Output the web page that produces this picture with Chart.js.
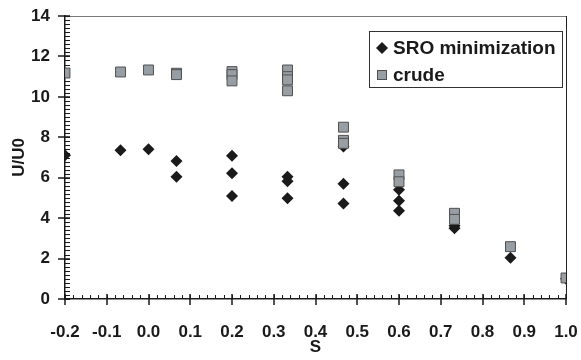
<!DOCTYPE html>
<html>
<head>
<meta charset="utf-8">
<script src="https://cdn.jsdelivr.net/npm/chart.js@4/dist/chart.umd.min.js"></script>
<style>
  html, body { margin: 0; padding: 0; background: #fff; }
  #wrap { width: 581px; height: 360px; }
</style>
</head>
<body>
<div id="wrap"><canvas id="chart" width="581" height="360"></canvas></div>
<script>
// ===== Data =====
const sroX   = [-0.2, -0.067, 0.0, 0.067, 0.067, 0.2, 0.2, 0.2, 0.333, 0.333, 0.333, 0.467, 0.467, 0.467, 0.6, 0.6, 0.6, 0.733, 0.733, 0.867, 1.0];
const sroY   = [7.11, 7.36, 7.41, 6.83, 6.05, 7.09, 6.22, 5.10, 6.05, 5.82, 4.98, 7.55, 5.70, 4.73, 5.40, 4.86, 4.37, 3.62, 3.50, 2.04, 1.0];
const crudeX = [-0.2, -0.067, 0.0, 0.067, 0.067, 0.2, 0.2, 0.2, 0.333, 0.333, 0.333, 0.333, 0.467, 0.467, 0.467, 0.6, 0.6, 0.733, 0.733, 0.867, 1.0];
const crudeY = [11.18, 11.23, 11.33, 11.17, 11.10, 11.25, 11.10, 10.79, 11.33, 11.00, 10.84, 10.30, 8.50, 7.85, 7.70, 6.14, 5.80, 4.24, 3.94, 2.59, 1.04];
const seriesNames = ['SRO minimization', 'crude'];
const xTicks = { min: -0.2, max: 1.0, step: 0.1, minor: 0.02 };
const yTicks = { min: 0, max: 14, step: 2, minor: 0.2 };

const toPoints = (xs, ys) => xs.map((x, i) => ({ x: x, y: ys[i] }));

const SRO_COLOR = '#1a1a1a';
const CRUDE_FILL = '#979ea4';
const CRUDE_EDGE = '#505050';
const FONT = 'Liberation Sans, Arial, sans-serif';

// fixed scale boxes, no extra label padding
const fixBox = (w, h) => s => {
  if (w) s.width = w;
  if (h) s.height = h;
  s.paddingTop = s.paddingBottom = s.paddingLeft = s.paddingRight = 0;
};

// ===== Axes decorations: frame, major/minor ticks =====
const axisMarks = {
  id: 'axisMarks',
  beforeDatasetsDraw(chart) {
    const { ctx, chartArea: a, scales: { x, y } } = chart;
    ctx.save();
    // frame: top gray, right dark
    ctx.lineWidth = 1;
    ctx.strokeStyle = '#7a7a7a';
    ctx.beginPath();
    ctx.moveTo(a.left, a.top + 0.5);
    ctx.lineTo(a.right, a.top + 0.5);
    ctx.stroke();
    ctx.strokeStyle = '#222';
    ctx.beginPath();
    ctx.moveTo(a.right + 0.5, a.top);
    ctx.lineTo(a.right + 0.5, a.bottom);
    ctx.stroke();

    ctx.strokeStyle = '#1a1a1a';
    ctx.lineWidth = 1;
    // minor ticks x
    const nx = Math.round((xTicks.max - xTicks.min) / xTicks.minor);
    for (let i = 0; i <= nx; i++) {
      const px = Math.round(x.getPixelForValue(xTicks.min + i * xTicks.minor)) + 0.5;
      ctx.beginPath();
      ctx.moveTo(px, a.bottom);
      ctx.lineTo(px, a.bottom - 4);
      ctx.stroke();
    }
    // minor ticks y
    const ny = Math.round((yTicks.max - yTicks.min) / yTicks.minor);
    for (let i = 0; i <= ny; i++) {
      const py = Math.round(y.getPixelForValue(yTicks.min + i * yTicks.minor)) + 0.5;
      ctx.beginPath();
      ctx.moveTo(a.left, py);
      ctx.lineTo(a.left + 5, py);
      ctx.stroke();
    }
    // major ticks
    ctx.lineWidth = 1.5;
    const mx = Math.round((xTicks.max - xTicks.min) / xTicks.step);
    for (let i = 0; i <= mx; i++) {
      const px = Math.round(x.getPixelForValue(xTicks.min + i * xTicks.step));
      ctx.beginPath();
      ctx.moveTo(px, a.bottom - 5);
      ctx.lineTo(px, a.bottom + 6);
      ctx.stroke();
    }
    const my = Math.round((yTicks.max - yTicks.min) / yTicks.step);
    for (let i = 0; i <= my; i++) {
      const py = Math.round(y.getPixelForValue(yTicks.min + i * yTicks.step));
      ctx.beginPath();
      ctx.moveTo(a.left - 7, py);
      ctx.lineTo(a.left + 5, py);
      ctx.stroke();
    }
    ctx.restore();
  }
};

// ===== Legend inside plot area =====
const boxLegend = {
  id: 'boxLegend',
  afterDraw(chart) {
    const { ctx, chartArea: a } = chart;
    const w = 193, h = 56;
    const left = a.right - 4 - w, top = a.top + 15;
    ctx.save();
    ctx.fillStyle = '#fff';
    ctx.fillRect(left, top, w, h);
    ctx.strokeStyle = '#333';
    ctx.lineWidth = 1;
    ctx.strokeRect(left + 0.5, top + 0.5, w, h);

    const mx = left + 13;
    const row1 = top + 17, row2 = top + 44;
    // diamond
    ctx.fillStyle = SRO_COLOR;
    ctx.beginPath();
    ctx.moveTo(mx, row1 - 6);
    ctx.lineTo(mx + 6, row1);
    ctx.lineTo(mx, row1 + 6);
    ctx.lineTo(mx - 6, row1);
    ctx.closePath();
    ctx.fill();
    // square
    ctx.fillStyle = CRUDE_FILL;
    ctx.strokeStyle = CRUDE_EDGE;
    ctx.fillRect(mx - 4.5, row2 - 4.5, 9, 9);
    ctx.strokeRect(mx - 4.5, row2 - 4.5, 9, 9);

    ctx.fillStyle = '#1a1a1a';
    ctx.font = 'bold 19px ' + FONT;
    ctx.textBaseline = 'middle';
    ctx.textAlign = 'left';
    ctx.fillText(seriesNames[0], left + 24, row1 + 1);
    ctx.fillText(seriesNames[1], left + 24, row2 + 1);
    ctx.restore();
  }
};

new Chart(document.getElementById('chart'), {
  type: 'scatter',
  data: {
    datasets: [
      {
        label: seriesNames[0],
        data: toPoints(sroX, sroY),
        pointStyle: 'rectRot',
        pointRadius: 6,
        backgroundColor: SRO_COLOR,
        borderColor: SRO_COLOR,
        borderWidth: 0,
        order: 1
      },
      {
        label: seriesNames[1],
        data: toPoints(crudeX, crudeY),
        pointStyle: 'rect',
        pointRadius: 7,
        backgroundColor: CRUDE_FILL,
        borderColor: CRUDE_EDGE,
        borderWidth: 1,
        order: 0
      }
    ]
  },
  options: {
    responsive: false,
    devicePixelRatio: 1,
    animation: false,
    events: [],
    layout: { padding: { top: 16, right: 15, left: 0, bottom: 0 } },
    plugins: {
      legend: { display: false },
      tooltip: { enabled: false }
    },
    scales: {
      x: {
        type: 'linear',
        min: xTicks.min,
        max: xTicks.max,
        afterFit: fixBox(0, 61),
        grid: { display: false, drawTicks: false },
        border: { display: true, color: '#1a1a1a', width: 1.5 },
        ticks: {
          stepSize: xTicks.step,
          padding: 23,
          color: '#1a1a1a',
          font: { family: FONT, size: 17, weight: 'bold' },
          callback: v => (Math.abs(v) < 1e-9 ? 0 : v).toFixed(1)
        },
        title: {
          display: true,
          text: 'S',
          color: '#1a1a1a',
          font: { family: FONT, size: 17, weight: 'bold' },
          padding: { top: 0, bottom: 2 }
        }
      },
      y: {
        min: yTicks.min,
        max: yTicks.max,
        afterFit: fixBox(65, 0),
        grid: { display: false, drawTicks: false },
        border: { display: true, color: '#1a1a1a', width: 1.5 },
        ticks: {
          stepSize: yTicks.step,
          padding: 15,
          color: '#1a1a1a',
          font: { family: FONT, size: 17, weight: 'bold' }
        },
        title: {
          display: true,
          text: 'U/U0',
          color: '#1a1a1a',
          font: { family: FONT, size: 17, weight: 'bold' },
          padding: { top: 9, bottom: 0 }
        }
      }
    }
  },
  plugins: [axisMarks, boxLegend]
});
</script>
</body>
</html>
